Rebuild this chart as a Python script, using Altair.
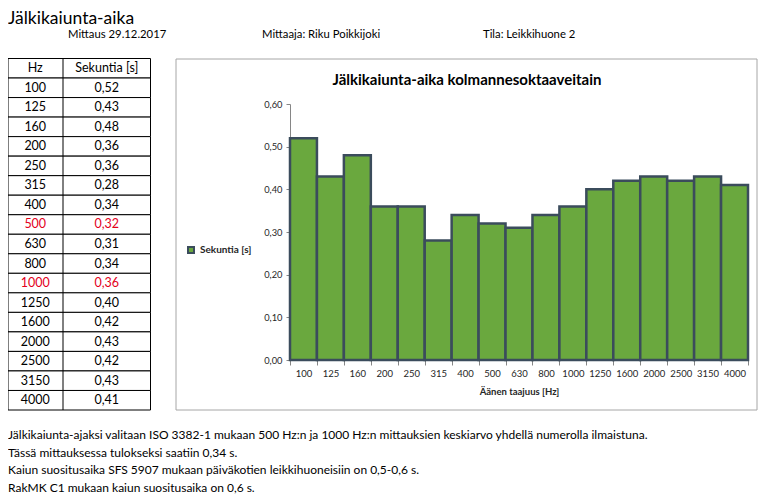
import altair as alt
import pandas as pd

FONT = "Lato"

hz = ["100", "125", "160", "200", "250", "315", "400", "500", "630", "800",
      "1000", "1250", "1600", "2000", "2500", "3150", "4000"]
secs = [0.52, 0.43, 0.48, 0.36, 0.36, 0.28, 0.34, 0.32, 0.31, 0.34,
        0.36, 0.40, 0.42, 0.43, 0.42, 0.43, 0.41]
highlight = ["500", "1000"]
series_name = "Sekuntia [s]"

page_title = "Jälkikaiunta-aika"
header_texts = ["Mittaus 29.12.2017", "Mittaaja: Riku Poikkijoki", "Tila: Leikkihuone 2"]
chart_title = "Jälkikaiunta-aika kolmannesoktaaveitain"
x_title = "Äänen taajuus [Hz]"
table_headers = ["Hz", "Sekuntia [s]"]
footer_lines = [
    "Jälkikaiunta-ajaksi valitaan ISO 3382-1 mukaan 500 Hz:n ja 1000 Hz:n mittauksien keskiarvo yhdellä numerolla ilmaistuna.",
    "Tässä mittauksessa tulokseksi saatiin  0,34 s.",
    "Kaiun suositusaika SFS 5907 mukaan päiväkotien leikkihuoneisiin on 0,5-0,6 s.",
    "RakMK C1 mukaan kaiun suositusaika on 0,6 s.",
]

GREEN = "#6aa83e"
EDGE = "#3b4c5c"
RED = "#e3001b"

bars_df = pd.DataFrame({"Hz": hz, "s": secs, "series": series_name})

rows = ["header"] + hz
table_df = pd.DataFrame({
    "row": rows,
    "col1": [table_headers[0]] + hz,
    "col2": [table_headers[1]] + [f"{v:.2f}".replace(".", ",") for v in secs],
    "red": [False] + [h in highlight for h in hz],
})
one = pd.DataFrame({"k": [0]})

row_scale = alt.Scale(domain=rows, range=[-45.5, 306], paddingInner=0, paddingOuter=0)
ry = alt.Y("row:N", scale=row_scale, axis=None)

# chart-area box
box = alt.Chart(one).mark_rect(fillOpacity=0, stroke="#a6a6a6", strokeWidth=1).encode(
    x=alt.value(-114), x2=alt.value(467), y=alt.value(-45), y2=alt.value(306)
)

# table
t_rows = alt.Chart(table_df).mark_rect(fill="white", stroke="#000000", strokeWidth=1).encode(
    y=ry, x=alt.value(-282), x2=alt.value(-139.5)
)
t_div = alt.Chart(one).mark_rule(color="#000000", strokeWidth=1).encode(
    x=alt.value(-227), y=alt.value(-45.5), y2=alt.value(306)
)
tcolor = alt.condition(alt.datum.red, alt.value(RED), alt.value("#000000"))
t_c1 = alt.Chart(table_df).mark_text(font=FONT, fontSize=12.5, align="center", baseline="middle").encode(
    y=ry, x=alt.value(-254.75), text="col1:N", color=tcolor
)
t_c2 = alt.Chart(table_df).mark_text(font=FONT, fontSize=12.5, align="center", baseline="middle").encode(
    y=ry, x=alt.value(-183.25), text="col2:N", color=tcolor
)

# bars
bars = alt.Chart(bars_df).mark_bar(stroke=EDGE, strokeWidth=2.5).encode(
    x=alt.X("Hz:N", sort=hz, scale=alt.Scale(domain=hz, paddingInner=0, paddingOuter=0),
            axis=alt.Axis(title=x_title, labelAngle=0, tickBand="extent", tickSize=5,
                          labelPadding=3, labelFontSize=9.5, labelColor="#262626",
                          titleFontSize=9.5, titleFontWeight="bold", titleColor="#262626",
                          titlePadding=9, domainColor="#868686", tickColor="#868686",
                          labelFont=FONT, titleFont=FONT)),
    y=alt.Y("s:Q", scale=alt.Scale(domain=[0, 0.6], nice=False),
            axis=alt.Axis(title=None, values=[0, 0.1, 0.2, 0.3, 0.4, 0.5, 0.6],
                          labelExpr="replace(format(datum.value, '.2f'), '.', ',')",
                          tickSize=4, labelPadding=4, labelFontSize=9.3, labelColor="#262626",
                          labelFont=FONT, domainColor="#868686", tickColor="#868686",
                          gridColor="#868686", gridWidth=1)),
    color=alt.Color("series:N", scale=alt.Scale(domain=[series_name], range=[GREEN]),
                    legend=alt.Legend(title=None, orient="none", legendX=-104, legendY=141,
                                      symbolType="square", symbolSize=36,
                                      symbolStrokeColor=EDGE, symbolStrokeWidth=2,
                                      labelFont=FONT, labelFontSize=10, labelFontWeight="bold",
                                      labelColor="#262626", labelOffset=4)),
)

ctitle = alt.Chart(one).mark_text(font=FONT, fontSize=15, fontWeight="bold", align="center",
                                  baseline="middle", color="#000000").encode(
    x=alt.value(177), y=alt.value(-24), text=alt.value(chart_title)
)

ptitle = alt.Chart(one).mark_text(font=FONT, fontSize=17.5, align="left", baseline="alphabetic",
                                  color="#000000").encode(
    x=alt.value(-282), y=alt.value(-80), text=alt.value(page_title)
)
h1 = alt.Chart(one).mark_text(font=FONT, fontSize=11.3, align="left", baseline="middle").encode(
    x=alt.value(-222), y=alt.value(-69), text=alt.value(header_texts[0]))
h2 = alt.Chart(one).mark_text(font=FONT, fontSize=11.3, align="left", baseline="middle").encode(
    x=alt.value(-28), y=alt.value(-69), text=alt.value(header_texts[1]))
h3 = alt.Chart(one).mark_text(font=FONT, fontSize=11.3, align="left", baseline="middle").encode(
    x=alt.value(193), y=alt.value(-69), text=alt.value(header_texts[2]))

footer = alt.Chart(one).mark_text(font=FONT, fontSize=12, align="left", baseline="top",
                                  lineHeight=17.6, color="#000000").encode(
    x=alt.value(-282), y=alt.value(326), text=alt.value(footer_lines)
)

chart = alt.layer(
    box, t_rows, t_div, t_c1, t_c2, bars, ctitle, ptitle, h1, h2, h3, footer
).resolve_scale(x="independent", y="independent").properties(
    width=458, height=256,
    padding={"left": 282, "top": 96, "right": 11, "bottom": 134},
    autosize=alt.AutoSizeParams(type="none"),
).configure_view(stroke=None)

chart.save("out.html", embed_options={"renderer": "svg", "actions": False})
